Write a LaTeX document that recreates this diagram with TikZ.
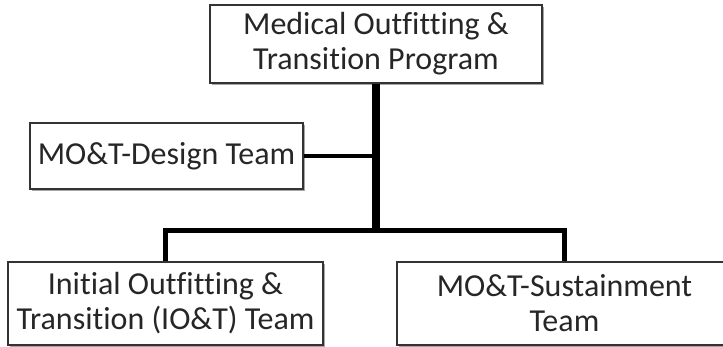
\documentclass[tikz,border=0pt]{standalone}
\usepackage{fontspec}
\setmainfont[Ligatures=NoCommon]{Carlito}
\usetikzlibrary{shadows}
\definecolor{txt}{HTML}{262626}
\definecolor{edge}{HTML}{333333}
\tikzset{
  orgbox/.style={draw=edge, line width=1.5pt, fill=white, align=center, inner sep=0pt,
    text=txt, font=\fontsize{32}{35}\selectfont,
    drop shadow={shadow xshift=2pt, shadow yshift=-2pt, opacity=0.35, fill=black}},
  conn/.style={draw=black, line join=miter}
}
\begin{document}
\begin{tikzpicture}[x=1pt, y=-1pt]
\useasboundingbox (0,0) rectangle (723,347);
\node[orgbox, minimum width=332pt, minimum height=78pt] (top) at (376,44) {Medical Outfitting \&\\Transition Program};
\node[orgbox, minimum width=273pt, minimum height=66pt] (design) at (166.5,156) {MO\&T-Design Team};
\node[orgbox, minimum width=315pt, minimum height=83pt] (iot) at (165.5,303.5) {Initial Outfitting \&\\Transition (IO\&T) Team};
\node[orgbox, minimum width=335pt, minimum height=83pt] (sus) at (564.5,303.5) {MO\&T-Sustainment\\Team};
\coordinate (j) at (376,230.5);
\draw[conn, line width=4pt] (design.east) -- (design.east -| j);
\draw[conn, line width=5pt] (iot.north) |- (j) -| (sus.north);
\draw[conn, line width=8pt] (top.south) -- (j);
\end{tikzpicture}
\end{document}
